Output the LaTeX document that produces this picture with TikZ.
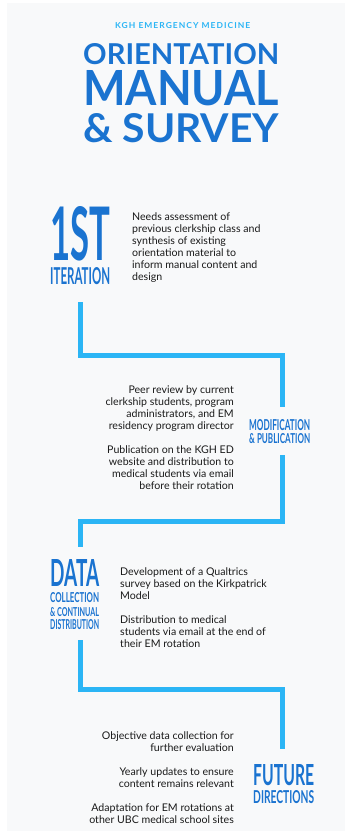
\documentclass[tikz,border=0pt]{standalone}
\usepackage{fontspec}
\usepackage{graphicx}
\setmainfont{Lato}
\definecolor{panelgray}{HTML}{F8F9FA}
\definecolor{headblue}{HTML}{1A73D0}
\definecolor{lineblue}{HTML}{2BB5F5}
\definecolor{bodytext}{HTML}{1A1A1A}
\newcommand{\headbox}[3]{\resizebox{#1pt}{#2pt}{\bfseries #3}}

\begin{document}
\begin{tikzpicture}[x=1pt,y=-1pt,
        head/.style={inner sep=0pt,anchor=north west,text=headblue},
        body/.style={inner sep=0pt,text=bodytext,font=\fontsize{10.6}{12}\selectfont},
        track/.style={draw=lineblue,line width=5pt}]
            \fill[white] (0,0) rectangle (352,834);
            \fill[panelgray] (7,3) rectangle (345,831);

            \node[head,text=lineblue] (kgh) at (115,22){\headbox{135}{6}{\addfontfeature{LetterSpace=12}KGH EMERGENCY MEDICINE}};
            \node[head] (orient) at (83,43){\headbox{196}{21}{ORIENTATION}};
            \node[head] (manual) at (83,70){\headbox{196}{35}{MANUAL}};
            \node[head] (survey) at (83,113){\headbox{196}{29}{\& SURVEY}};

            \node[head] (first) at (50,206){\headbox{60}{54}{1ST}};
            \node[head] (iter) at (50,267){\headbox{60}{17}{ITERATION}};
            \node[body,anchor=north west,align=left] (needs) at (132,212){Needs assessment of\\previous clerkship class and\\synthesis of existing\\orientation material to\\inform manual content and\\design};

            \node[head] (modif) at (249,419){\headbox{61}{11}{MODIFICATION}};
            \node[head] (publ) at (249,433){\headbox{61}{10}{\& PUBLICATION}};
            \node[body,anchor=north east,align=right] (review) at (234,385){Peer review by current\\clerkship students, program\\administrators, and EM\\residency program director\\[12pt]Publication on the KGH ED\\website and distribution to\\medical students via email\\before their rotation};

            \node[head] (data) at (50,559){\headbox{49}{27}{DATA}};
            \node[head] (coll) at (50,592){\headbox{49}{10}{COLLECTION}};
            \node[head] (cont) at (50,607){\headbox{49}{9}{\& CONTINUAL}};
            \node[head] (distr) at (50,619){\headbox{49}{10}{DISTRIBUTION}};
            \node[body,anchor=north west,align=left] (qualt) at (120,567){Development of a Qualtrics\\survey based on the Kirkpatrick\\Model\\[12pt]Distribution to medical\\students via email at the end of\\their EM rotation};

            \node[head] (future) at (253,764){\headbox{61}{21}{FUTURE}};
            \node[head] (direc) at (253,790){\headbox{61}{13}{DIRECTIONS}};
            \node[body,anchor=north east,align=right] (objective) at (234,731){Objective data collection for\\further evaluation\\[12pt]Yearly updates to ensure\\content remains relevant\\[12pt]Adaptation for EM rotations at\\other UBC medical school sites};

            % the track between the stages
            \coordinate (t1) at (80.5,302);
            \coordinate (t2) at (282.5,355);
            \coordinate (t3) at (282.5,407);
            \coordinate (t4) at (282.5,455);
            \coordinate (t5) at (80.5,521);
            \coordinate (t6) at (80.5,547);
            \coordinate (t7) at (80.5,640);
            \coordinate (t8) at (282.5,689);
            \coordinate (t9) at (282.5,749);

            \draw[track] (t1) |- (t2) -- (t3);
            \draw[track] (t4) |- (t5) -- (t6);
            \draw[track] (t7) |- (t8) -- (t9);
        \end{tikzpicture}
\end{document}
